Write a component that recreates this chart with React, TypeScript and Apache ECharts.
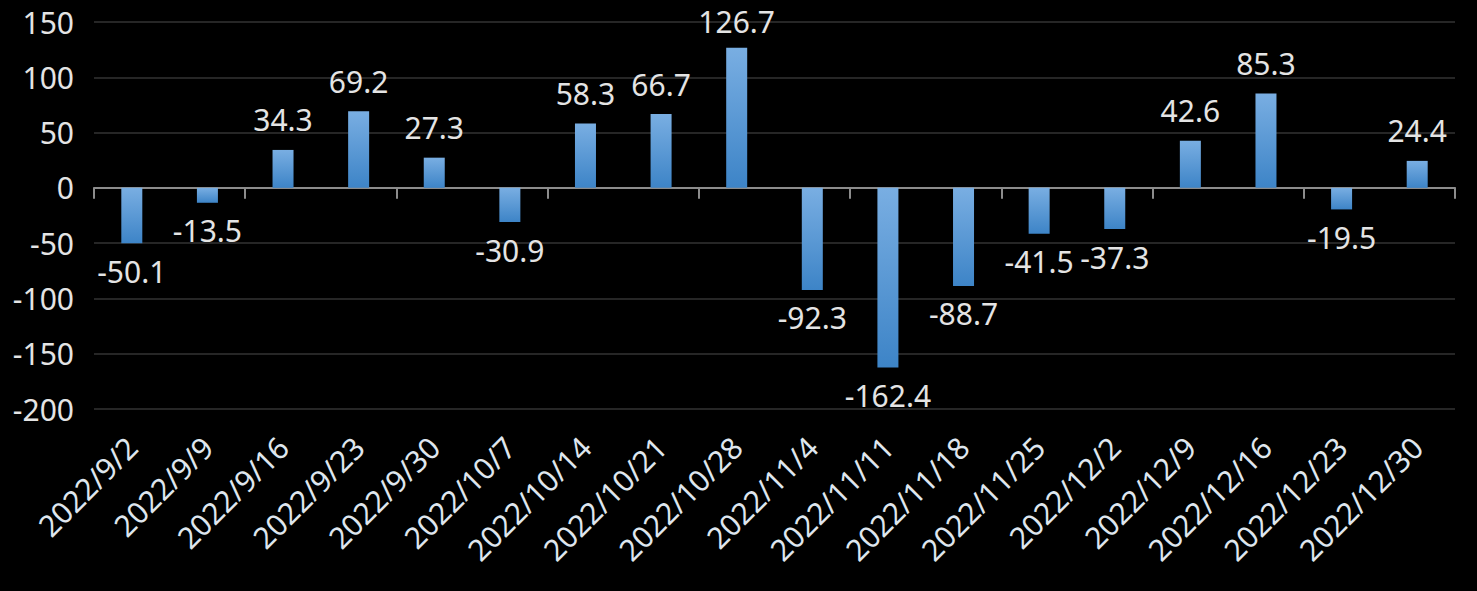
import React, { useEffect, useRef } from "react";
import * as echarts from "echarts";

const categories = [
  "2022/9/2", "2022/9/9", "2022/9/16", "2022/9/23", "2022/9/30", "2022/10/7",
  "2022/10/14", "2022/10/21", "2022/10/28", "2022/11/4", "2022/11/11", "2022/11/18",
  "2022/11/25", "2022/12/2", "2022/12/9", "2022/12/16", "2022/12/23", "2022/12/30",
];
const values = [
  -50.1, -13.5, 34.3, 69.2, 27.3, -30.9, 58.3, 66.7, 126.7, -92.3, -162.4, -88.7,
  -41.5, -37.3, 42.6, 85.3, -19.5, 24.4,
];
const yMin = -200;
const yMax = 150;
const yStep = 50;

const FONT = "'Noto Sans', 'Open Sans', sans-serif";
const TEXT = "#e4e4e4";

const GRID_TOP = 22;
const GRID_BOTTOM = 182;
const HEIGHT = 591;
const LABEL_H = 36;

export default function App() {
  const ref = useRef<HTMLDivElement>(null);
  useEffect(() => {
    if (!ref.current) return;
    const chart = echarts.init(ref.current, null, { renderer: "svg" });
    const grad = new echarts.graphic.LinearGradient(0, 0, 0, 1, [
      { offset: 0, color: "#79aee2" },
      { offset: 1, color: "#3d84c7" },
    ]);
    const plotH = HEIGHT - GRID_TOP - GRID_BOTTOM;
    const labelFor = (v: number) => {
      if (v < 0) return { position: "bottom", distance: 13 };
      // keep label inside the canvas (space above the bar top)
      const barTop = GRID_TOP + ((yMax - v) / (yMax - yMin)) * plotH;
      const dist = Math.max(2, Math.min(15, barTop - LABEL_H));
      return { position: "top", distance: dist };
    };
    chart.setOption({
      animation: false,
      backgroundColor: "#000000",
      grid: { left: 94, right: 22, top: GRID_TOP, bottom: GRID_BOTTOM, containLabel: false },
      xAxis: [
        {
          type: "category",
          data: categories,
          position: "bottom",
          axisLine: { show: false, onZero: false },
          axisTick: { show: false },
          axisLabel: {
            rotate: 45,
            margin: 33,
            interval: 0,
            color: "#dfe6ee",
            fontSize: 30,
            fontFamily: FONT,
          },
        },
        {
          type: "category",
          data: categories,
          position: "top",
          axisLine: { show: true, onZero: true, lineStyle: { color: "#8c8c8c", width: 2 } },
          axisTick: { show: true, inside: true, length: 11, lineStyle: { color: "#8c8c8c", width: 2 } },
          axisLabel: { show: false },
        },
      ],
      yAxis: {
        type: "value",
        min: yMin,
        max: yMax,
        interval: yStep,
        axisLine: { show: false },
        axisTick: { show: false },
        splitLine: { lineStyle: { color: "#262626", width: 2 } },
        axisLabel: { color: TEXT, fontSize: 30, fontFamily: FONT, margin: 20 },
      },
      series: [
        {
          type: "bar",
          xAxisIndex: 0,
          barWidth: 21,
          itemStyle: { color: grad },
          data: values.map((v) => ({ value: v, label: labelFor(v) })),
          label: {
            show: true,
            color: TEXT,
            fontSize: 30,
            fontFamily: FONT,
            formatter: (p: any) => Number(p.value).toFixed(1),
          },
        },
      ],
    });
    return () => chart.dispose();
  }, []);
  return (
    <div
      ref={ref}
      style={{ position: "fixed", left: 0, top: 0, width: 1477, height: 591, background: "#000" }}
    />
  );
}
